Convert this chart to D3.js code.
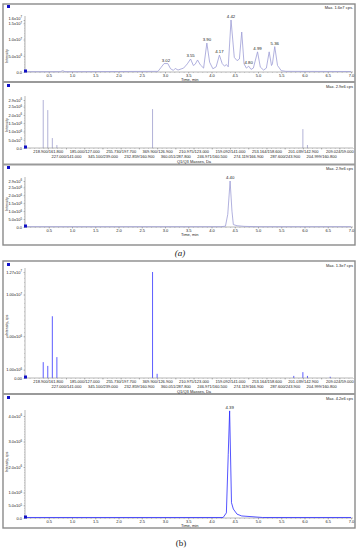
<!DOCTYPE html>
<html>
<head>
<meta charset="utf-8">
<script src="https://cdn.jsdelivr.net/npm/d3@7"></script>
<style>
body { margin: 0; background: #fff; }
text { font-family: "Liberation Sans", Arial, sans-serif; fill: #222; }
</style>
</head>
<body>
<div id="chart"></div>
<script>
// ---- data ----
var timeTicks = [0.5, 1.0, 1.5, 2.0, 2.5, 3.0, 3.5, 4.0, 4.5, 5.0, 5.5, 6.0, 6.5, 7.0];

// (a) top: XIC, [time min, intensity cps]
var a1Trace = [[0, 1e5], [0.75, 1e5], [0.8, 4e5], [0.85, 1e5], [2.0, 1.5e5], [2.85, 2e5], [2.92, 1.5e6], [2.98, 2.6e6],
    [3.06, 2.6e6], [3.12, 1.0e6], [3.18, 5e5], [3.22, 1.1e6], [3.28, 6e5], [3.4, 1.2e6], [3.48, 2.5e6], [3.55, 4.0e6],
    [3.61, 2.0e6], [3.65, 2.4e6], [3.70, 3.7e6], [3.76, 2.2e6], [3.83, 1.2e6], [3.90, 8.9e6], [3.96, 3.0e6], [4.03, 1.0e6],
    [4.10, 1.6e6], [4.17, 5.2e6], [4.23, 2.6e6], [4.28, 1.8e6], [4.32, 2.3e6], [4.36, 1.6e6], [4.42, 1.6e7], [4.49, 4.5e6],
    [4.55, 3.5e6], [4.60, 4.0e6], [4.65, 1.23e7], [4.70, 2.5e6], [4.75, 1.2e6], [4.80, 1.8e6], [4.85, 8e5], [4.90, 1.2e6],
    [4.99, 6.2e6], [5.05, 1.5e6], [5.12, 6e5], [5.18, 1.2e6], [5.24, 6.2e6], [5.29, 2.0e6], [5.31, 2.5e6], [5.36, 7.8e6],
    [5.42, 2.0e6], [5.5, 4e5], [5.6, 2e5], [7.0, 1.5e5]];
var a1Peaks = [3.02, 3.55, 3.90, 4.17, 4.42, 4.80, 4.99, 5.36];
var a1YTicks = [0, 5e6, 1e7, 1.5e7, 1.6e7];

// (a) middle and (b) top: Q1/Q3 transitions
var massLabels = ["218.900/161.800", "227.000/141.000", "185.000/127.000", "345.100/239.000", "255.730/197.700",
    "232.859/160.900", "369.900/126.900", "360.051/287.800", "210.975/123.000", "246.971/160.500", "159.092/141.000",
    "274.119/166.900", "253.164/158.600", "287.600/243.900", "201.039/142.900", "204.999/160.800", "209.024/59.000"];
var a2Bars = [[0, 2.9e6], [1, 2.29e6], [2, 6e5], [3, 1.8e5], [24, 2.35e6], [57, 1.14e6], [58, 1.8e5]];
var a2YTicks = [0, 5e5, 1e6, 1.5e6, 2e6, 2.5e6, 2.9e6];

// (a) bottom: XIC
var a3Trace = [[0, 2e4], [4.2, 2e4], [4.3, 5e4], [4.35, 8e5], [4.40, 2.9e6], [4.44, 1.0e6], [4.47, 1.5e5], [4.55, 8e4],
    [4.7, 4e4], [5.0, 2e4], [7.0, 2e4]];
var a3Peaks = [4.40];
var a3YTicks = [0, 5e5, 1e6, 1.5e6, 2e6, 2.5e6, 2.9e6];

// (b)
var b1Bars = [[0, 1.9e6], [1, 1.45e6], [2, 7.4e6], [3, 2.5e6], [24, 1.27e7], [25, 5e5], [55, 2.5e5], [57, 7e5], [58, 2.5e5], [63, 1.5e5]];
var b1YTicks = [0, 1e6, 5e6, 1e7, 1.27e7];
var b2Trace = [[0, 2e4], [4.25, 2e4], [4.32, 2e5], [4.36, 2.5e6], [4.39, 4.2e6], [4.43, 6e5], [4.47, 3.5e5], [4.55, 1.5e5],
    [4.65, 8e4], [5.1, 2e4], [7.0, 2e4]];
var b2Peaks = [4.39];
var b2YTicks = [0, 5e5, 1e6, 2e6, 3e6, 4e6];

// ---- drawing ----
var W = 358, H = 550;
var svg = d3.select("#chart").append("svg").attr("width", W).attr("height", H);

var paleLine = "#9d9dd6", blueLine = "#2a2aff";
var xTime = d3.scaleLinear().domain([0, 7]).range([25.5, 351]);
var xMass = d3.scaleLinear().domain([-4, 68]).range([25, 353]);

function sciLabel(sel, v, digits) {
    sel.text(null);
    if (v === 0) { sel.text((0).toFixed(digits)); return; }
    var e = Math.floor(Math.log10(v) + 1e-9);
    sel.append("tspan").text((v / Math.pow(10, e)).toFixed(digits) + "x10");
    sel.append("tspan").attr("dy", -1.3).style("font-size", "2.8px").text(e);
}

function yAxis(y, ticks, digits, top) {
    var g = svg.append("g").attr("transform", "translate(25,0)");
    g.append("g").call(d3.axisLeft(y).ticks(30).tickSize(1).tickFormat(""))
        .call(function(a) { a.select(".domain").remove(); a.selectAll("line").attr("stroke", "#999").attr("stroke-width", 0.4); });
    var ax = g.append("g").call(d3.axisLeft(y).tickValues(ticks).tickSize(1.5).tickPadding(1.5));
    ax.select(".domain").remove();
    ax.selectAll("line").attr("stroke", "#888").attr("stroke-width", 0.5);
    var last = ticks[ticks.length - 1];
    ax.selectAll("text").style("font-size", "4px")
        .each(function(d) { sciLabel(d3.select(this), d, digits); })
        // the max label sits just above its neighbour, as in the Analyst view
        .attr("y", function(d) { return d === last && y(ticks[ticks.length - 2]) - y(d) < 5 ? -2 : 0; });
    g.append("line").attr("y1", y(0)).attr("y2", top).attr("stroke", "#888").attr("stroke-width", 0.6);
}

function timeAxis(y0) {
    var g = svg.append("g").attr("transform", "translate(0," + y0 + ")");
    g.append("g").call(d3.axisBottom(xTime).ticks(70).tickSize(1).tickFormat(""))
        .call(function(a) { a.select(".domain").remove(); a.selectAll("line").attr("stroke", "#999").attr("stroke-width", 0.4); });
    var ax = g.append("g").call(d3.axisBottom(xTime).tickValues(timeTicks).tickSize(1.5).tickPadding(1).tickFormat(d3.format(".1f")));
    ax.select(".domain").remove();
    ax.selectAll("line").attr("stroke", "#888").attr("stroke-width", 0.5);
    ax.selectAll("text").style("font-size", "4px");
    g.append("line").attr("x1", 25).attr("x2", 353).attr("stroke", "#888").attr("stroke-width", 0.6);
    svg.append("text").attr("x", 181).attr("y", y0 + 9).style("font-size", "4px").text("Time, min");
}

function massAxis(y0) {
    var g = svg.append("g").attr("transform", "translate(0," + y0 + ")");
    g.append("g").call(d3.axisBottom(xMass).ticks(72).tickSize(1).tickFormat(""))
        .call(function(a) { a.select(".domain").remove(); a.selectAll("line").attr("stroke", "#999").attr("stroke-width", 0.4); });
    var idx = massLabels.map(function(d, i) { return 4 * i + 1; });
    var ax = g.append("g").call(d3.axisBottom(xMass).tickValues(idx).tickSize(1.5).tickPadding(1)
        .tickFormat(function(d) { return massLabels[(d - 1) / 4]; }));
    ax.select(".domain").remove();
    ax.selectAll("line").attr("stroke", "#888").attr("stroke-width", 0.5);
    ax.selectAll("text").style("font-size", "4px").attr("dy", function(d) { return ((d - 1) / 4) % 2 ? "1.9em" : "0.71em"; });
    g.append("line").attr("x1", 25).attr("x2", 353).attr("stroke", "#888").attr("stroke-width", 0.6);
    svg.append("text").attr("x", 177).attr("y", y0 + 15).style("font-size", "4px").text("Q1/Q3 Masses, Da");
}

function yTitle(text, cy) {
    svg.append("text").attr("transform", "translate(8," + cy + ") rotate(-90)").attr("text-anchor", "middle")
        .style("font-size", "3.6px").text(text);
}

function maxLabel(text, y) {
    svg.append("text").attr("x", 353).attr("y", y).attr("text-anchor", "end").style("font-size", "4px").text(text);
}

function blueMark(x, y) {
    svg.append("rect").attr("x", x).attr("y", y).attr("width", 3).attr("height", 3).attr("fill", "#1010c8");
}

function tracePane(trace, peaks, y, color) {
    svg.append("path").datum(trace).attr("fill", "none").attr("stroke", color).attr("stroke-width", 0.8)
        .attr("d", d3.line().x(function(d) { return xTime(d[0]); }).y(function(d) { return y(d[1]); }));
    peaks.forEach(function(t) {
        var top = d3.max(trace.filter(function(d) { return Math.abs(d[0] - t) < 0.05; }), function(d) { return d[1]; });
        svg.append("text").attr("x", xTime(t)).attr("y", y(top) - 2).attr("text-anchor", "middle")
            .style("font-size", "4.3px").text(t.toFixed(2));
    });
}

function barPane(bars, y, color) {
    svg.append("g").selectAll("line").data(bars).join("line")
        .attr("x1", function(d) { return xMass(d[0]); }).attr("x2", function(d) { return xMass(d[0]); })
        .attr("y1", y(0)).attr("y2", function(d) { return y(d[1]); })
        .attr("stroke", color).attr("stroke-width", 0.9);
}

// frames
function frame(y1, y2, seps) {
    svg.append("rect").attr("x", 3).attr("y", y1).attr("width", 352).attr("height", y2 - y1)
        .attr("fill", "none").attr("stroke", "#8a8a8a").attr("stroke-width", 1.4);
    seps.forEach(function(s) {
        svg.append("line").attr("x1", 3).attr("x2", 355).attr("y1", s).attr("y2", s).attr("stroke", "#9a9a9a").attr("stroke-width", 2);
    });
}
frame(4, 245, [82, 164.5]);
frame(261, 528, [394]);

// (a) top
var yA1 = d3.scaleLinear().domain([0, 1.6e7]).range([72, 20]);
yAxis(yA1, a1YTicks, 1, 16);
timeAxis(72);
tracePane(a1Trace, a1Peaks, yA1, paleLine);
yTitle("Intensity", 56);
maxLabel("Max. 1.6e7 cps.", 9);
blueMark(7, 5); blueMark(24, 69.5);

// (a) middle
var yA2 = d3.scaleLinear().domain([0, 2.9e6]).range([148, 100]);
yAxis(yA2, a2YTicks, 1, 96);
barPane(a2Bars, yA2, "#a9a9d2");
massAxis(148);
yTitle("Intensity", 125);
maxLabel("Max. 2.9e6 cps", 88);
blueMark(7, 84); blueMark(24, 145.5);

// (a) bottom
var yA3 = d3.scaleLinear().domain([0, 2.9e6]).range([227, 181]);
yAxis(yA3, a3YTicks, 1, 177);
timeAxis(227);
tracePane(a3Trace, a3Peaks, yA3, paleLine);
yTitle("Intensity", 204);
maxLabel("Max. 2.9e6 cps", 170);
blueMark(7, 166); blueMark(24, 224.5);

svg.append("text").attr("x", 180).attr("y", 256).attr("text-anchor", "middle")
    .style("font-family", "'Liberation Serif', serif").style("font-size", "9px").style("font-style", "italic").text("(a)");

// (b) top
var yB1 = d3.scaleLinear().domain([0, 1.27e7]).range([378, 272]);
yAxis(yB1, b1YTicks, 2, 268);
barPane(b1Bars, yB1, "#4b4bff");
massAxis(378);
yTitle("Intensity, cps", 325);
maxLabel("Max. 1.3e7 cps", 267);
blueMark(7, 263); blueMark(24, 375.5);

// (b) bottom
var yB2 = d3.scaleLinear().domain([0, 4e6]).range([518, 416]);
yAxis(yB2, b2YTicks, 1, 410);
timeAxis(518);
tracePane(b2Trace, b2Peaks, yB2, blueLine);
yTitle("Intensity, cps", 462);
maxLabel("Max. 4.2e6 cps", 400);
blueMark(7, 396); blueMark(24, 515.5);

svg.append("text").attr("x", 181).attr("y", 546).attr("text-anchor", "middle")
    .style("font-family", "'Liberation Serif', serif").style("font-size", "9px").text("(b)");
</script>
</body>
</html>
